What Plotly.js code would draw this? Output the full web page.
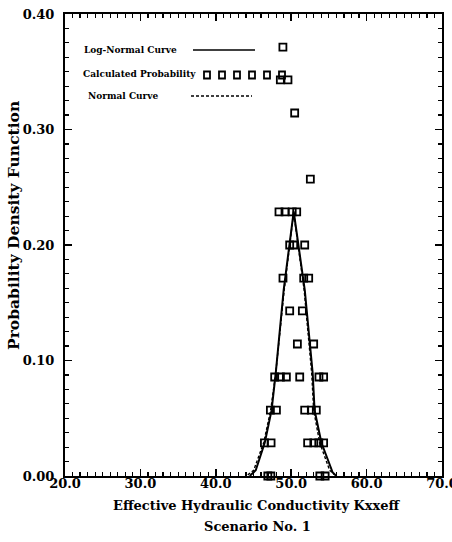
<!DOCTYPE html>
<html>
<head>
<meta charset="utf-8">
<script src="https://cdn.plot.ly/plotly-3.0.1.min.js"></script>
<style>html,body{margin:0;padding:0;background:#fff;}#chart{width:452px;height:542px;}</style>
</head>
<body>
<div id="chart"></div>
<script>
// Calculated probability points
var probX = [48.9, 48.56, 49.57, 50.46, 52.54,
  48.38, 49.18, 50.13, 50.73,
  49.80, 50.33, 51.79,
  48.91, 51.66, 52.32,
  49.80, 51.48,
  50.82, 52.98,
  47.81, 48.57, 49.36, 51.13, 53.68, 54.30,
  47.24, 48.04, 51.79, 52.67, 53.33,
  46.45, 47.33, 52.18, 53.0, 53.66, 54.3,
  46.9, 47.3, 53.8, 54.5];
var probY = [0.3714, 0.3429, 0.3429, 0.3143, 0.2571,
  0.2286, 0.2286, 0.2286, 0.2286,
  0.2000, 0.2000, 0.2000,
  0.1714, 0.1714, 0.1714,
  0.1429, 0.1429,
  0.1143, 0.1143,
  0.0857, 0.0857, 0.0857, 0.0857, 0.0857, 0.0857,
  0.0571, 0.0571, 0.0571, 0.0571, 0.0571,
  0.0286, 0.0286, 0.0286, 0.0286, 0.0286, 0.0286,
  0.0, 0.0, 0.0, 0.0];
// Log-normal curve (solid)
var lognormX = [44.5, 45.3, 46.5, 47.4, 47.95, 49.0, 50.33, 51.8, 52.85, 53.1, 54.0, 55.5, 56.0];
var lognormY = [0.000, 0.005, 0.029, 0.057, 0.089, 0.161, 0.229, 0.161, 0.089, 0.057, 0.029, 0.003, 0.000];
// Normal curve (dashed)
var normalX = [44.24, 45.03, 46.36, 47.28, 47.95, 49.07, 50.33, 51.72, 52.72, 52.98, 53.77, 55.1, 55.76];
var normalY = [0.001, 0.005, 0.029, 0.057, 0.089, 0.161, 0.228, 0.161, 0.089, 0.057, 0.029, 0.005, 0.001];

var xTickVals = [20, 30, 40, 50, 60, 70];
var xTickText = ["20.0", "30.0", "40.0", "50.0", "60.0", "70.0"];
var yTickVals = [0, 0.1, 0.2, 0.3, 0.4];
var yTickText = ["0.00", "0.10", "0.20", "0.30", "0.40"];

var legendLabels = ["Log-Normal Curve", "Calculated Probability", "Normal Curve"];
var xTitle = "Effective Hydraulic Conductivity Kxxeff";
var subTitle = "Scenario No. 1";
var yTitle = "Probability Density Function";

var FONT = "DejaVu Serif";
var L = 65, T = 14, W = 377, H = 462;
function px2paperX(p){ return (p - L) / W; }
function px2paperY(p){ return (T + H - p) / H; }

var traces = [
  {x: lognormX, y: lognormY, mode: 'lines', line: {color: '#000', width: 2}, hoverinfo: 'skip'},
  {x: normalX, y: normalY, mode: 'lines', line: {color: '#000', width: 1.4, dash: '3px,2px'}, hoverinfo: 'skip'},
  {x: probX, y: probY, mode: 'markers', cliponaxis: false,
   marker: {symbol: 'square-open', size: 7, color: '#000', line: {width: 1.8, color: '#000'}}}
];

var shapes = [
  {type: 'line', xref: 'paper', yref: 'paper', x0: px2paperX(193), x1: px2paperX(255), y0: px2paperY(50), y1: px2paperY(50), line: {color: '#000', width: 1.5}},
  {type: 'line', xref: 'paper', yref: 'paper', x0: px2paperX(191), x1: px2paperX(252), y0: px2paperY(96), y1: px2paperY(96), line: {color: '#000', width: 1.3, dash: '3px,2px'}}
];
var legMarkPx = [207, 222, 237, 252, 267, 282];
legMarkPx.forEach(function(p){
  shapes.push({type: 'rect', xref: 'paper', yref: 'paper', xsizemode: 'pixel', ysizemode: 'pixel',
    xanchor: px2paperX(p), yanchor: px2paperY(75), x0: -3, x1: 3, y0: -3.5, y1: 3.5,
    line: {color: '#000', width: 1.8}, fillcolor: 'rgba(0,0,0,0)'});
});

var annotations = [
  {text: '<b>' + legendLabels[0] + '</b>', xref: 'paper', yref: 'paper', x: px2paperX(82), y: px2paperY(50), xanchor: 'left', yanchor: 'middle', showarrow: false, font: {family: FONT, size: 9, color: '#000'}},
  {text: '<b>' + legendLabels[1] + '</b>', xref: 'paper', yref: 'paper', x: px2paperX(81), y: px2paperY(74), xanchor: 'left', yanchor: 'middle', showarrow: false, font: {family: FONT, size: 9, color: '#000'}},
  {text: '<b>' + legendLabels[2] + '</b>', xref: 'paper', yref: 'paper', x: px2paperX(86), y: px2paperY(96), xanchor: 'left', yanchor: 'middle', showarrow: false, font: {family: FONT, size: 9, color: '#000'}},
  {text: '<b>' + xTitle + '</b>', xref: 'paper', yref: 'paper', x: px2paperX(257), y: px2paperY(506), xanchor: 'center', yanchor: 'middle', showarrow: false, font: {family: FONT, size: 13, color: '#000'}},
  {text: '<b>' + subTitle + '</b>', xref: 'paper', yref: 'paper', x: px2paperX(257), y: px2paperY(526), xanchor: 'center', yanchor: 'middle', showarrow: false, font: {family: FONT, size: 13, color: '#000'}},
  {text: '<b>' + yTitle + '</b>', xref: 'paper', yref: 'paper', x: px2paperX(13), y: px2paperY(226), xanchor: 'center', yanchor: 'middle', textangle: -90, showarrow: false, font: {family: FONT, size: 15.5, color: '#000'}}
];

var layout = {
  width: 452, height: 542,
  margin: {l: L, r: 452 - L - W, t: T, b: 542 - T - H, pad: 0},
  paper_bgcolor: '#fff', plot_bgcolor: '#fff',
  showlegend: false,
  font: {family: FONT, color: '#000'},
  xaxis: {range: [20, 70], showgrid: false, zeroline: false, showline: true, linecolor: '#000', linewidth: 2, mirror: 'ticks',
    ticks: 'inside', ticklen: 7, tickwidth: 1.5, tickcolor: '#000', tickvals: xTickVals, ticktext: xTickText,
    tickfont: {family: FONT, size: 13, color: '#000', weight: 'bold'}, ticklabelstandoff: -6, ticklabeloverflow: 'allow',
    minor: {dtick: 1, ticks: 'inside', ticklen: 4, tickwidth: 1.2, tickcolor: '#000', showgrid: false}},
  yaxis: {range: [0, 0.4], showgrid: false, zeroline: false, showline: true, linecolor: '#000', linewidth: 2, mirror: 'ticks',
    ticks: 'inside', ticklen: 7, tickwidth: 1.5, tickcolor: '#000', tickvals: yTickVals, ticktext: yTickText,
    tickfont: {family: FONT, size: 13, color: '#000', weight: 'bold'}, ticklabelstandoff: 6, ticklabeloverflow: 'allow',
    minor: {dtick: 0.0125, ticks: 'inside', ticklen: 4, tickwidth: 1.2, tickcolor: '#000', showgrid: false}},
  shapes: shapes,
  annotations: annotations
};

Plotly.newPlot('chart', traces, layout, {staticPlot: true, displayModeBar: false});
</script>
</body>
</html>
